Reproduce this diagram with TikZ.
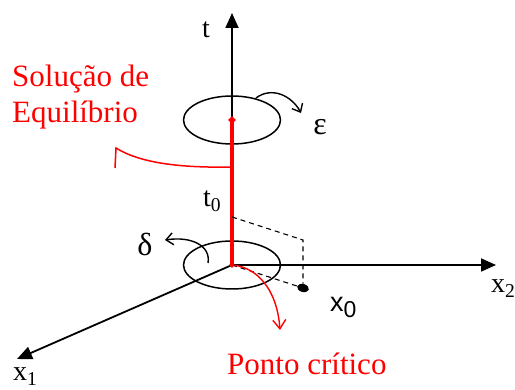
\documentclass[tikz,border=0pt]{standalone}
\usepackage{fontspec}
\setmainfont{Liberation Serif}
\newfontfamily\arialfont{Liberation Sans}
\usetikzlibrary{arrows.meta,shapes.geometric}

\begin{document}
\begin{tikzpicture}[x=1pt, y=-1pt,
    axisLine/.style={line width=1.8pt, -{Triangle[length=15pt,width=13pt]}},
    orbitLine/.style={line width=1.5pt},
    turnArrow/.style={line width=1.4pt, -{Straight Barb[length=7pt,width=12pt]}},
    redArrow/.style={red, line width=1.4pt, -{Straight Barb[length=9pt,width=13pt]}},
    dashLine/.style={line width=1.1pt, dash pattern=on 5pt off 4pt},
    axisLabel/.style={font=\fontsize{28}{30}\selectfont, inner sep=0pt, anchor=base west},
    redLabel/.style={red, font=\fontsize{31}{36}\selectfont, inner sep=0pt, align=left},
    redDot/.style={diamond, fill=red, inner sep=0pt, minimum size=8pt}
]
\useasboundingbox (0,0) rectangle (515,390);

\coordinate (origin) at (232,265);
\coordinate (upCenter) at (232,120);
\coordinate (tTop) at (232,13);
\coordinate (x2End) at (496,265);
\coordinate (x1End) at (17,359);

\draw[orbitLine] (upCenter) ellipse [x radius=48.5, y radius=24];
\draw[orbitLine] (origin) ellipse [x radius=48.5, y radius=24];

\draw[axisLine] (origin) -- (x2End);
\draw[axisLine] (origin) -- (x1End);
\draw[axisLine] (upCenter) -- (tTop);
\draw[red, line width=3.8pt] (origin) -- (upCenter);

\coordinate (t0Mark) at (232,217);
\coordinate (cornerUp) at (303,240);
\node[ellipse, fill=black, inner sep=0pt, minimum width=12pt, minimum height=8pt, rotate=-15] (pointX0) at (303,288) {};
\draw[dashLine] (t0Mark) -- (cornerUp) -- (pointX0);
\draw[dashLine] (origin) -- (pointX0);

\node[redDot] (dotUp) at (upCenter) {};
\node[redDot, minimum size=6pt] (dotOrigin) at (origin) {};

\coordinate (epsStart) at (256,98);
\coordinate (epsEnd) at (301,113);
\draw[turnArrow] (epsStart) .. controls (272,86) and (292,96) .. (epsEnd);

\coordinate (deltaStart) at (208,263);
\coordinate (deltaEnd) at (165,240);
\draw[turnArrow] (deltaStart) .. controls (211,246) and (192,236) .. (deltaEnd);

\coordinate (solStart) at (232,167);
\coordinate (solHook) at (116,148);
\coordinate (solTail) at (115,168);
\draw[red, line width=1.5pt] (solStart) .. controls (180,168) and (140,163) .. (solHook) -- (solTail);

\coordinate (critEnd) at (280,330);
\draw[redArrow] (dotOrigin) .. controls (256,268) and (277,288) .. (critEnd);

\node[axisLabel] (labelT) at (202,38) {t};
\node[axisLabel] (labelT0) at (203,207) {t\textsubscript{0}};
\node[axisLabel] (labelX2) at (491,293) {x\textsubscript{2}};
\node[axisLabel] (labelX1) at (13,381) {x\textsubscript{1}};
\node[inner sep=0pt, anchor=base west, font=\arialfont\fontsize{27}{30}\selectfont] (labelX0) at (330,312) {x\raisebox{-6pt}{\fontsize{23}{26}\selectfont 0}};
\node[inner sep=0pt, font=\fontsize{32}{34}\selectfont] (labelEps) at (320,127) {ε};
\node[inner sep=0pt, font=\fontsize{32}{34}\selectfont] (labelDelta) at (145,244) {δ};

\node[redLabel, anchor=base west] (labelSol1) at (12,87) {Solução de};
\node[redLabel, anchor=base west] (labelSol2) at (12,123) {Equilíbrio};
\node[redLabel, anchor=base west] (labelCrit) at (227,375) {Ponto crítico};
\end{tikzpicture}
\end{document}
